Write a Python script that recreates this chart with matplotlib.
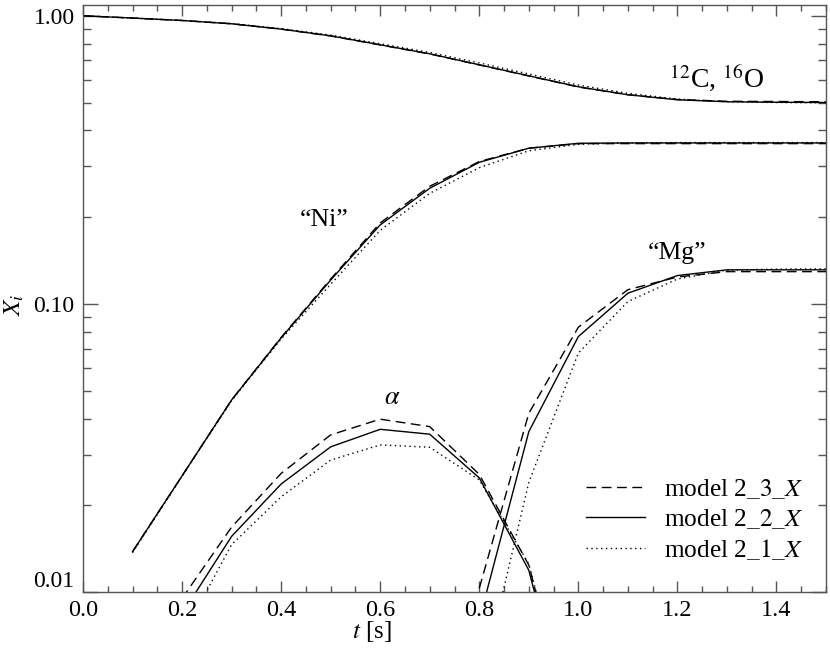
import matplotlib
matplotlib.use("Agg")
import matplotlib.pyplot as plt
from matplotlib.ticker import FixedLocator, LogLocator, MultipleLocator, NullFormatter, FixedFormatter

plt.rcParams['font.family'] = ['Liberation Serif', 'DejaVu Serif']
plt.rcParams['mathtext.fontset'] = 'stix'

# ---- data ----
t_all = [0.0, 0.1, 0.2, 0.3, 0.4, 0.5, 0.6, 0.7, 0.8, 0.9, 1.0, 1.1, 1.2, 1.3, 1.4, 1.5]
co_23 = [1.0, 0.982, 0.963, 0.938, 0.899, 0.851, 0.792, 0.737, 0.675, 0.618, 0.566, 0.532, 0.512, 0.505, 0.504, 0.503]
co_22 = [1.0, 0.982, 0.963, 0.938, 0.899, 0.852, 0.793, 0.738, 0.676, 0.619, 0.567, 0.532, 0.511, 0.503, 0.501, 0.500]
co_21 = [1.0, 0.982, 0.964, 0.940, 0.902, 0.857, 0.800, 0.746, 0.686, 0.628, 0.575, 0.538, 0.514, 0.503, 0.500, 0.499]

t_ni = [0.1, 0.2, 0.3, 0.4, 0.5, 0.6, 0.7, 0.8, 0.9, 1.0, 1.1, 1.2, 1.3, 1.4, 1.5]
ni_23 = [0.0138, 0.0253, 0.0464, 0.0765, 0.122, 0.191, 0.256, 0.312, 0.347, 0.360, 0.360, 0.360, 0.360, 0.360, 0.360]
ni_22 = [0.0138, 0.0253, 0.0464, 0.0762, 0.121, 0.188, 0.252, 0.310, 0.347, 0.361, 0.362, 0.362, 0.362, 0.362, 0.362]
ni_21 = [0.0137, 0.0252, 0.0462, 0.0755, 0.117, 0.180, 0.242, 0.297, 0.340, 0.358, 0.362, 0.363, 0.363, 0.363, 0.363]

t_he = [0.2, 0.3, 0.4, 0.5, 0.6, 0.7, 0.8, 0.9, 1.0]
he_23 = [0.0095, 0.0168, 0.0258, 0.0351, 0.0398, 0.0375, 0.0256, 0.0124, 0.0027]
he_22 = [0.0084, 0.0156, 0.0237, 0.0319, 0.0367, 0.0353, 0.0249, 0.0119, 0.0026]
he_21 = [0.0070, 0.0146, 0.0214, 0.0287, 0.0324, 0.0318, 0.0245, 0.0125, 0.0028]

t_mg = [0.8, 0.9, 1.0, 1.1, 1.2, 1.3, 1.4, 1.5]
mg_23 = [0.0103, 0.0417, 0.0830, 0.1120, 0.1240, 0.1294, 0.1294, 0.1294]
mg_22 = [0.0080, 0.0360, 0.0770, 0.1089, 0.1254, 0.1313, 0.1313, 0.1313]
mg_21 = [0.0045, 0.0240, 0.0675, 0.1019, 0.1220, 0.1310, 0.1320, 0.1323]

model_labels = [r"model 2$\mathit{\_3\_X}$", r"model 2$\mathit{\_2\_X}$", r"model 2$\mathit{\_1\_X}$"]
ytick_vals = [0.01, 0.1, 1.0]
ytick_labels = ["0.01", "0.10", "1.00"]

# ---- figure ----
fig = plt.figure(figsize=(8.3, 6.48), dpi=100)
ax = fig.add_axes([83/830, 1-592/648, (826-83)/830, (592-5)/648])

styles = [dict(ls=(0, (7, 4)), lw=1.0, color='black'),
          dict(ls='-', lw=1.0, color='black'),
          dict(ls=(0, (1, 2.5)), lw=1.0, color='black')]

series = [(t_all, [co_23, co_22, co_21]), (t_ni, [ni_23, ni_22, ni_21]),
          (t_he, [he_23, he_22, he_21]), (t_mg, [mg_23, mg_22, mg_21])]
handles = [None, None, None]
for tt, ys in series:
    for i, y in enumerate(ys):
        h, = ax.plot(tt, y, **styles[i])
        handles[i] = h

ax.set_yscale('log')
ax.set_xlim(0, 1.5)
ax.set_ylim(0.01, 1.09)

ax.xaxis.set_major_locator(MultipleLocator(0.2))
ax.xaxis.set_minor_locator(MultipleLocator(0.05))
ax.xaxis.set_major_formatter(plt.FuncFormatter(lambda v, p: f"{v:.1f}"))
ax.yaxis.set_major_locator(FixedLocator(ytick_vals))
ax.yaxis.set_major_formatter(FixedFormatter(ytick_labels))
ax.yaxis.set_minor_locator(LogLocator(base=10, subs=range(2, 10)))
ax.yaxis.set_minor_formatter(NullFormatter())

gc = '#555555'
for s in ax.spines.values():
    s.set_color(gc)
    s.set_linewidth(1.0)
ax.tick_params(which='both', direction='in', top=True, right=True, color=gc, width=1.0)
ax.tick_params(axis='x', which='major', length=8, labelsize=17.5, pad=6)
ax.tick_params(axis='x', which='minor', length=4.3)
ax.tick_params(axis='y', which='major', length=10.5, labelsize=17, pad=6)
ax.tick_params(axis='y', which='minor', length=5.8)

fig.canvas.draw()
for lab in ax.get_yticklabels():
    if lab.get_text() == "0.01":
        lab.set_verticalalignment('bottom')

ax.text(0.487, 0.196, "“Ni”", fontsize=18.5, ha='center', va='center')
ax.text(1.2, 0.150, "“Mg”", fontsize=18.5, ha='center', va='center')
ax.text(0.625, 0.0472, r"$\alpha$", fontsize=19, ha='center', va='center')
ax.text(1.28, 0.609, r"$^{12}$C, $^{16}$O", fontsize=20, ha='center', va='center')

ax.text((372-83)/743, -0.068, r"$t$ [s]", transform=ax.transAxes, fontsize=18, ha='center', va='center')
ax.text(-0.092, (592-305)/587, r"$X_i$", transform=ax.transAxes, fontsize=18, ha='center', va='center', rotation=90)

ax.legend(handles, model_labels, loc='lower right', bbox_to_anchor=((803-83)/743, (592-562)/587),
          frameon=False, fontsize=18.3, handlelength=2.3, handletextpad=0.75, borderpad=0,
          borderaxespad=0, labelspacing=0.25)

fig.savefig("out.png", dpi=100)
